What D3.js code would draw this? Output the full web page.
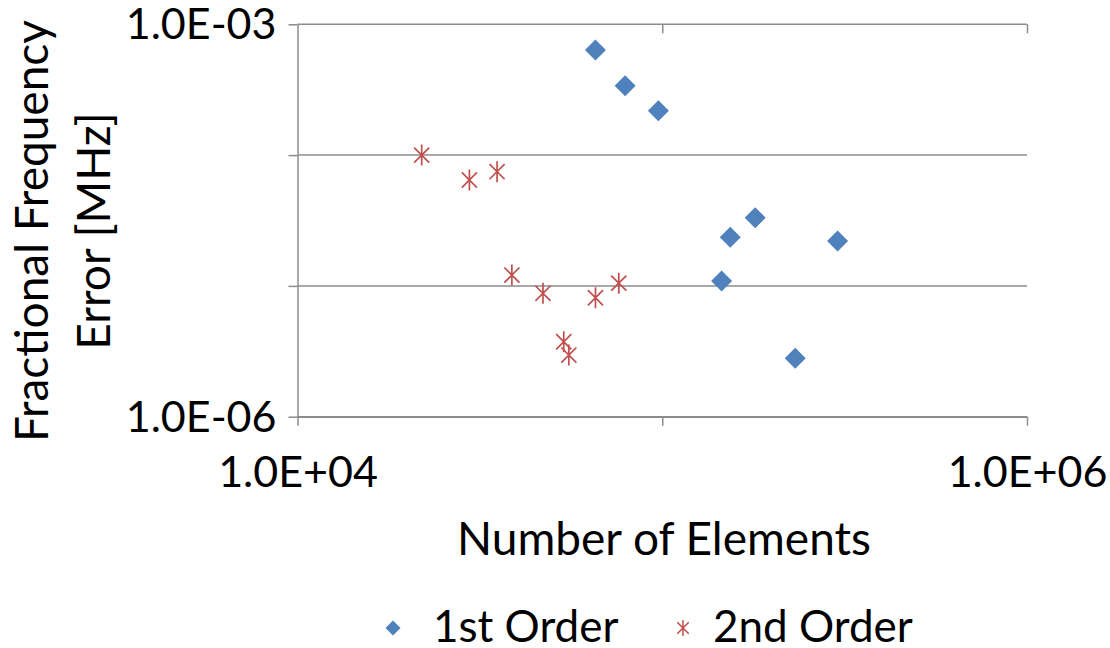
<!DOCTYPE html>
<html>
<head>
<meta charset="utf-8">
<script src="https://cdn.jsdelivr.net/npm/d3@7"></script>
<style>
  body { margin: 0; background: #fff; }
  svg text { font-family: Lato, "Open Sans", sans-serif; fill: #000; }
</style>
</head>
<body>
<div id="chart"></div>
<script>
// --- data ---
const firstOrderN   = [65600, 79100, 97600, 179800, 153600, 302400, 145400, 231500];
const firstOrderErr = [6.36e-4, 3.39e-4, 2.18e-4, 3.32e-5, 2.35e-5, 2.20e-5, 1.09e-5, 2.80e-6];
const secondOrderN   = [21900, 29600, 35250, 38700, 47100, 65600, 76000, 53700, 55450];
const secondOrderErr = [1.0e-4, 6.45e-5, 7.47e-5, 1.21e-5, 8.78e-6, 8.12e-6, 1.05e-5, 3.74e-6, 2.96e-6];
const xTicks = [1e4, 1e5, 1e6];
const yTicks = [1e-6, 1e-5, 1e-4, 1e-3];
const xLabelled = [1e4, 1e6];
const yLabelled = [1e-6, 1e-3];

const W = 1110, H = 648;
const plot = { left: 297.5, right: 1027, top: 24.3, bottom: 416.7 };
const BLUE = "#4f81bd", RED = "#c0504d", GRID = "#8c8c8c";

const svg = d3.select("#chart").append("svg").attr("width", W).attr("height", H);

const x = d3.scaleLog().domain([1e4, 1e6]).range([plot.left, plot.right]);
const y = d3.scaleLog().domain([1e-6, 1e-3]).range([plot.bottom, plot.top]);

function sci(d) {
  const e = Math.round(Math.log10(d));
  return "1.0E" + (e < 0 ? "-" : "+") + String(Math.abs(e)).padStart(2, "0");
}

// horizontal gridlines
svg.append("g").selectAll("line").data(yTicks).join("line")
  .attr("x1", plot.left).attr("x2", plot.right)
  .attr("y1", d => y(d)).attr("y2", d => y(d))
  .attr("stroke", GRID).attr("stroke-width", 1.5);

// y axis
const yAxis = svg.append("g").attr("transform", `translate(${plot.left},0)`)
  .call(d3.axisLeft(y).tickValues(yTicks).tickSize(9).tickSizeOuter(0)
    .tickFormat(d => yLabelled.includes(d) ? sci(d) : ""));
// bottom axis
const xAxis = svg.append("g").attr("transform", `translate(0,${plot.bottom})`)
  .call(d3.axisBottom(x).tickValues(xTicks).tickSize(9).tickSizeOuter(0)
    .tickFormat(d => xLabelled.includes(d) ? sci(d) : ""));
// little ticks hanging from the top line
svg.append("g").attr("transform", `translate(0,${plot.top})`)
  .call(d3.axisTop(x).tickValues([1e5, 1e6]).tickSize(-9).tickFormat(""))
  .call(g => g.select(".domain").remove());

svg.selectAll(".domain, .tick line").attr("stroke", GRID).attr("stroke-width", 1.5);
yAxis.selectAll("text").style("font-size", "43px").attr("fill", "#000")
  .attr("x", -21).attr("dy", 0).attr("y", 14.5);
xAxis.selectAll("text").style("font-size", "43px").attr("fill", "#000")
  .attr("dy", 0).attr("y", 70);

// axis titles
const yTitle = svg.append("text").attr("text-anchor", "middle")
  .attr("transform", "translate(48,231) rotate(-90)").style("font-size", "46px");
yTitle.append("tspan").attr("x", 0).attr("dy", 0).text("Fractional Frequency");
yTitle.append("tspan").attr("x", 0).attr("dy", 62).text("Error [MHz]");

svg.append("text").attr("x", 664).attr("y", 555).attr("text-anchor", "middle")
  .style("font-size", "46px").text("Number of Elements");

// markers
function diamond(r) { return `M0,${-r}L${r},0L0,${r}L${-r},0Z`; }
function asterisk(r) {
  const d = r * 0.72;
  return `M0,${-r}L0,${r}M${-d},${-d}L${d},${d}M${-d},${d}L${d},${-d}`;
}

const first = firstOrderN.map((n, i) => ({ n, e: firstOrderErr[i] }));
const second = secondOrderN.map((n, i) => ({ n, e: secondOrderErr[i] }));

svg.append("g").selectAll("path").data(first).join("path")
  .attr("d", diamond(10.5))
  .attr("transform", d => `translate(${x(d.n)},${y(d.e)})`)
  .attr("fill", BLUE);

svg.append("g").selectAll("path").data(second).join("path")
  .attr("d", asterisk(10.5))
  .attr("transform", d => `translate(${x(d.n)},${y(d.e)})`)
  .attr("fill", "none").attr("stroke", RED).attr("stroke-width", 1.7);

// legend
const leg = svg.append("g");
leg.append("path").attr("d", diamond(7.5)).attr("transform", "translate(393,628)").attr("fill", BLUE);
leg.append("text").attr("x", 433).attr("y", 642).style("font-size", "44px").text("1st Order");
leg.append("path").attr("d", asterisk(8)).attr("transform", "translate(683,628)")
  .attr("fill", "none").attr("stroke", RED).attr("stroke-width", 1.5);
leg.append("text").attr("x", 713).attr("y", 642).style("font-size", "44px").text("2nd Order");
</script>
</body>
</html>
